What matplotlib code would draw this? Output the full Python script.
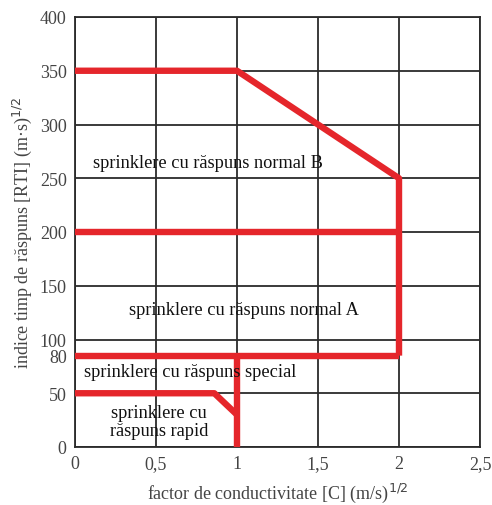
import matplotlib.pyplot as plt

plt.rcParams['font.family'] = ['Liberation Serif', 'DejaVu Serif']

RED = '#e5262b'
GRID = '#2b2b2b'
TEXT = '#444444'

# boundary lines (x = C factor, y = RTI)
normal_b_x = [0, 1, 2, 2]
normal_b_y = [350, 350, 250, 85]
normal_ab_x = [0, 2]
normal_ab_y = [200, 200]
special_x = [0, 2]
special_y = [85, 85]
rapid_x = [0, 0.86, 1]
rapid_y = [50, 50, 30]
c1_x = [1, 1]
c1_y = [0, 85]

xticks = [0, 0.5, 1, 1.5, 2, 2.5]
xtick_labels = ['0', '0,5', '1', '1,5', '2', '2,5']
ygrid = [0, 50, 100, 150, 200, 250, 300, 350, 400]
yticks = [0, 50, 85, 100, 150, 200, 250, 300, 350, 400]
ytick_labels = ['0', '50', '80', '100', '150', '200', '250', '300', '350', '400']

regions = [
    ('sprinklere cu răspuns normal B', 0.11, 265, 'left'),
    ('sprinklere cu răspuns normal A', 1.04, 128, 'center'),
    ('sprinklere cu răspuns special', 0.71, 70, 'center'),
    ('sprinklere cu\nrăspuns rapid', 0.52, 24, 'center'),
]

fig = plt.figure(figsize=(4.92, 5.06), dpi=100)
ax = fig.add_axes([75 / 492, 58 / 506, 405 / 492, 430 / 506])

for g in ygrid:
    ax.axhline(g, color=GRID, lw=1.3, zorder=1)
for g in xticks:
    ax.axvline(g, color=GRID, lw=1.3, zorder=1)

for xs, ys in [(normal_b_x, normal_b_y), (normal_ab_x, normal_ab_y),
               (special_x, special_y), (rapid_x, rapid_y), (c1_x, c1_y)]:
    ax.plot(xs, ys, color=RED, lw=4.6, solid_capstyle='butt', zorder=3)

for txt, x, y, ha in regions:
    ax.text(x, y, txt, ha=ha, va='center', fontsize=13.2, color='#111111',
            linespacing=1.05, zorder=4)

ax.set_xlim(0, 2.5)
ax.set_ylim(0, 400)
ax.set_xticks(xticks)
ax.set_xticklabels(xtick_labels)
ax.set_yticks(yticks)
ax.set_yticklabels(ytick_labels)
ax.tick_params(length=0, labelsize=13, labelcolor=TEXT, pad=6)
for s in ax.spines.values():
    s.set_color(GRID)
    s.set_linewidth(1.3)

ax.set_xlabel('factor de conductivitate [C] (m/s)$^{1/2}$', fontsize=13, color=TEXT, labelpad=6)
ax.set_ylabel('indice timp de răspuns [RTI] (m·s)$^{1/2}$', fontsize=13, color=TEXT, labelpad=4)

fig.savefig('out.png', dpi=100)
